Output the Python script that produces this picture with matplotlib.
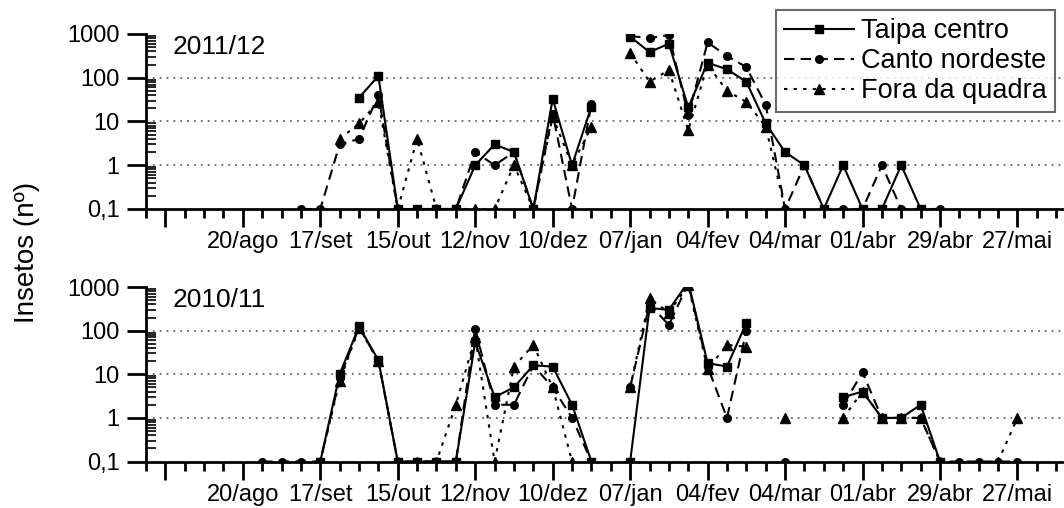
import numpy as np
import matplotlib.pyplot as plt
from matplotlib.lines import Line2D
from matplotlib.ticker import LogLocator, NullFormatter

plt.rcParams['font.family'] = ['Liberation Sans', 'DejaVu Sans']

nan = np.nan

# semanas de amostragem (semana 0 = 16/jul, uma coleta por semana)
semanas = np.arange(6, 46)

# marcas principais a cada 4 semanas
semanas_rotulo = np.arange(1, 46, 4)
rotulos_x = ['', '20/ago', '17/set', '15/out', '12/nov', '10/dez', '07/jan',
             '04/fev', '04/mar', '01/abr', '29/abr', '27/mai']

# safra 2011/12 (semanas 6 a 45, nan = sem coleta)
taipa_1112 = [nan, nan, nan, nan, nan, 35, 110, 0, 0, 0,
              0, 1, 3, 2, 0, 33, 1, 22, nan, 870,
              385, 600, 21, 220, 156, 81, 9, 2, 1, 0,
              1, 0, 0, 1, 0, nan, nan, nan, nan, nan]
canto_1112 = [nan, nan, 0, 0, 3, 4, 40, 0, 0, 0,
              0, 2, 1, 2, 0, 15, 0, 25, nan, 900,
              800, 950, 14, 640, 315, 175, 24, 0, 1, 0,
              0, 0, 1, 0, 0, 0, nan, nan, nan, nan]
fora_1112 = [nan, nan, nan, nan, 4, 9, 28, 0, 4, 0,
             0, 0, 0, 1, 0, 13, 1, 7.6, nan, 370,
             81, 150, 6.3, 200, 50, 28, 7.6, 0, nan, nan,
             nan, nan, nan, nan, nan, nan, nan, nan, nan, nan]

# safra 2010/11
taipa_1011 = [nan, nan, nan, 0, 10, 125, 21, 0, 0, 0,
              0, 55, 3, 5, 16, 15, 2, 0, nan, 0,
              330, 300, 1300, 18, 15, 150, nan, nan, nan, nan,
              3, 4, 1, 1, 2, 0, nan, nan, nan, nan]
canto_1011 = [0, 0, 0, 0, 8, 120, 20, 0, 0, 0,
              0, 110, 2, 2, 16, 5, 1, 0, nan, 5,
              400, 135, 1200, 15, 1, 100, nan, 0, nan, nan,
              2, 11, 1, 1, 1, 0, 0, 0, 0, 0]
fora_1011 = [nan, nan, nan, 0, 7, 115, 20, 0, 0, 0,
             2, 70, 0, 15, 47, 5, 0, nan, nan, 5,
             550, 260, 1100, 13, 47, 43, nan, 1, nan, nan,
             1, 4, 1, 1, 1, 0, nan, nan, 0, 1]

estilos = {
    'Taipa centro': dict(ls='-', marker='s', ms=5.5),
    'Canto nordeste': dict(ls=(0, (5, 3)), marker='o', ms=5.5),
    'Fora da quadra': dict(ls=(0, (1.6, 3)), marker='^', ms=6.5),
}


def desenha_painel(ax, titulo, series):
    for nome, valores in series:
        v = np.array(valores, dtype=float)
        # contagem zero fica sobre a linha de base (0,1)
        v = np.where(v == 0, 0.1, v)
        ax.plot(semanas, v, color='black', lw=1.5, mec='black', mfc='black',
                clip_on=True, **estilos[nome])

    ax.set_yscale('log')
    ax.set_ylim(0.1, 1000)
    ax.set_xlim(0, 47.3)

    for g in (1, 10, 100):
        ax.axhline(g, color='#666666', lw=1.3, ls=(0, (1, 2.8)), zorder=0)

    ax.spines['top'].set_visible(False)
    ax.spines['right'].set_visible(False)
    ax.spines['left'].set_linewidth(2)
    ax.spines['bottom'].set_linewidth(2)

    ax.set_yticks([0.1, 1, 10, 100, 1000])
    ax.set_yticklabels(['0,1', '1', '10', '100', '1000'])
    ax.yaxis.set_minor_locator(LogLocator(base=10, subs=np.arange(2, 10), numticks=20))
    ax.yaxis.set_minor_formatter(NullFormatter())
    ax.tick_params(axis='y', which='major', direction='out', length=14, width=2,
                   pad=5, labelsize=17)
    ax.tick_params(axis='y', which='minor', direction='in', length=7, width=1.2)

    ax.set_xticks(semanas_rotulo)
    ax.set_xticklabels(rotulos_x)
    ax.set_xticks(np.arange(0, 48), minor=True)
    ax.tick_params(axis='x', which='major', direction='out', length=13, width=2,
                   pad=3, labelsize=17)
    ax.tick_params(axis='x', which='minor', direction='out', length=6.5, width=2)

    ax.text(0.029, 0.925, titulo, transform=ax.transAxes, fontsize=19,
            ha='left', va='center')


fig = plt.figure(figsize=(10.64, 5.08), dpi=100)
ax_cima = fig.add_axes([146 / 1064, 0.5886, 916 / 1064, 0.3445])
ax_baixo = fig.add_axes([146 / 1064, 0.0915, 916 / 1064, 0.3435])

desenha_painel(ax_cima, '2011/12', [('Fora da quadra', fora_1112),
                                    ('Canto nordeste', canto_1112),
                                    ('Taipa centro', taipa_1112)])
desenha_painel(ax_baixo, '2010/11', [('Fora da quadra', fora_1011),
                                     ('Canto nordeste', canto_1011),
                                     ('Taipa centro', taipa_1011)])

handles = [Line2D([], [], color='black', lw=1.5, mfc='black', **estilos[n])
           for n in ('Taipa centro', 'Canto nordeste', 'Fora da quadra')]
leg = ax_cima.legend(handles, ['Taipa centro', 'Canto nordeste', 'Fora da quadra'],
                     loc='upper right', bbox_to_anchor=(1055 / 1064, 1 - 10 / 508),
                     bbox_transform=fig.transFigure, fontsize=19.5, frameon=True,
                     fancybox=False, edgecolor='#444444', handlelength=2.6,
                     handletextpad=0.25, borderpad=0.3, labelspacing=0.15,
                     borderaxespad=0)
leg.get_frame().set_linewidth(1.5)

fig.text(27 / 1064, 1 - 252 / 508, 'Insetos (nº)', rotation=90, ha='center',
         va='center', fontsize=20)

fig.savefig('out.png', dpi=100)
